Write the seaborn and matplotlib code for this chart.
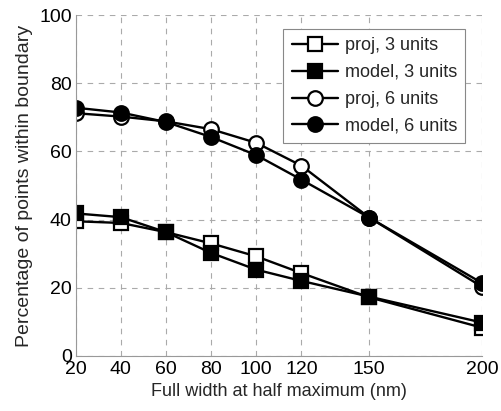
import matplotlib
matplotlib.use("Agg")
import matplotlib.pyplot as plt
import seaborn as sns
import pandas as pd

fwhm = [20, 40, 60, 80, 100, 120, 150, 200]
proj_3 = [39.5, 39.0, 36.3, 33.0, 29.2, 24.3, 17.2, 8.3]
model_3 = [41.8, 40.7, 36.3, 30.2, 25.3, 22.0, 17.4, 9.8]
proj_6 = [71.2, 70.2, 68.8, 66.5, 62.5, 55.8, 40.6, 20.3]
model_6 = [72.8, 71.4, 68.6, 64.2, 58.9, 51.7, 40.6, 21.4]
series_names = ["proj, 3 units", "model, 3 units", "proj, 6 units", "model, 6 units"]
x_ticks = [20, 40, 60, 80, 100, 120, 150, 200]
y_ticks = [0, 20, 40, 60, 80, 100]

sns.set_theme(style="white")
plt.rcParams['font.family'] = ['Liberation Sans', 'DejaVu Sans']

fig = plt.figure(figsize=(5.02, 4.11), dpi=100)
ax = fig.add_axes([0.151, 0.134, 0.809, 0.8295])

styles = [
    (proj_3, 's', 'white', 9.5),
    (model_3, 's', 'black', 9.5),
    (proj_6, 'o', 'white', 10.5),
    (model_6, 'o', 'black', 10.5),
]
for name, (vals, mk, fc, ms) in zip(series_names, styles):
    df = pd.DataFrame({"x": fwhm, "y": vals})
    sns.lineplot(data=df, x="x", y="y", ax=ax, color="black", linewidth=1.7,
                 marker=mk, markersize=ms, markerfacecolor=fc,
                 markeredgecolor="black", markeredgewidth=1.6, label=name)

ax.set_xlim(20, 200)
ax.set_ylim(0, 100)
ax.set_xticks(x_ticks)
ax.set_yticks(y_ticks)
ax.grid(True, linestyle=(0, (5, 5)), color="#aaaaaa", linewidth=0.8)
for s in ["top", "right"]:
    ax.spines[s].set_visible(False)
for s in ["left", "bottom"]:
    ax.spines[s].set_color("#999999")
    ax.spines[s].set_linewidth(0.8)
ax.tick_params(axis="both", labelsize=14, length=0, pad=3, colors="black")
ax.tick_params(axis="x", pad=4)
ax.set_xlabel("Full width at half maximum (nm)", fontsize=13, labelpad=3)
ax.set_ylabel("Percentage of points within boundary", fontsize=14, labelpad=4)

leg = ax.legend(loc="upper right", bbox_to_anchor=(0.968, 0.97), fontsize=13,
                frameon=True, fancybox=False, edgecolor="#888888", framealpha=1,
                handlelength=2.6, handletextpad=0.35, labelspacing=0.55,
                borderpad=0.45, borderaxespad=0.2)
leg.get_frame().set_linewidth(0.8)

fig.savefig("out.png", dpi=100)
